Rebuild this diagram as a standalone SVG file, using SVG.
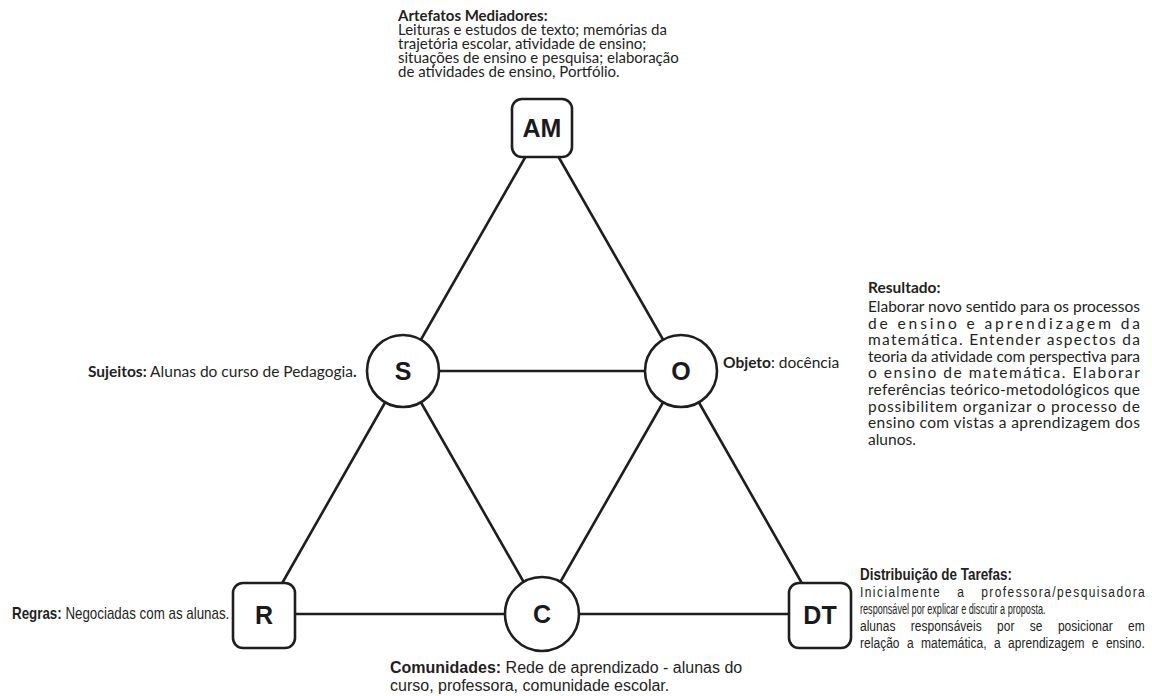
<svg xmlns="http://www.w3.org/2000/svg" width="1152" height="696" viewBox="0 0 1152 696">
<style>
.edge{stroke:#1e1e1e;stroke-width:2.6;fill:none;stroke-linecap:round}
.shape{fill:#ffffff;stroke:#1e1e1e;stroke-width:2.6}
.lbl{font-family:"Liberation Sans",Arial,sans-serif;font-weight:bold;font-size:25px;fill:#1a1a1a;text-anchor:middle}
.cal{font-family:Lato,"Open Sans",sans-serif;font-size:15.5px;fill:#231f20}
.top{font-family:Lato,"Open Sans",sans-serif;font-size:15px;fill:#231f20}
.ari{font-family:"Liberation Sans",Arial,sans-serif;fill:#231f20}
.b{font-weight:bold}
</style>
<rect width="1152" height="696" fill="#ffffff"/>
<g id="connectors">
<line class="edge" x1="542" y1="128" x2="403" y2="371"/>
<line class="edge" x1="542" y1="128" x2="681" y2="371"/>
<line class="edge" x1="403" y1="371" x2="681" y2="371"/>
<line class="edge" x1="403" y1="371" x2="264" y2="615"/>
<line class="edge" x1="403" y1="371" x2="542" y2="614"/>
<line class="edge" x1="681" y1="371" x2="542" y2="614"/>
<line class="edge" x1="681" y1="371" x2="820" y2="615"/>
<line class="edge" x1="264" y1="614" x2="542" y2="614"/>
<line class="edge" x1="542" y1="614" x2="820" y2="614"/>
</g>
<g id="node-AM">
<rect class="shape" x="512" y="99" width="60" height="58" rx="10"/>
<text class="lbl" x="542" y="137" font-size="26">AM</text>
</g>
<g id="node-S">
<circle class="shape" cx="403" cy="371" r="36"/>
<text class="lbl" x="403" y="380">S</text>
</g>
<g id="node-O">
<circle class="shape" cx="681" cy="371" r="36"/>
<text class="lbl" x="681" y="380">O</text>
</g>
<g id="node-R">
<rect class="shape" x="233" y="583" width="62" height="65" rx="10"/>
<text class="lbl" x="264" y="624">R</text>
</g>
<g id="node-C">
<circle class="shape" cx="542" cy="614" r="37"/>
<text class="lbl" x="542" y="623">C</text>
</g>
<g id="node-DT">
<rect class="shape" x="789" y="583" width="62" height="65" rx="10"/>
<text class="lbl" x="820" y="624">DT</text>
</g>
<g id="text-AM">
<text class="top b" x="398" y="21" font-size="15.5">Artefatos Mediadores:</text>
<text class="top" x="398" y="35">Leituras e estudos de texto; memórias da</text>
<text class="top" x="398" y="49">trajetória escolar, atividade de ensino;</text>
<text class="top" x="398" y="63">situações de ensino e pesquisa; elaboração</text>
<text class="top" x="398" y="77">de atividades de ensino, Portfólio.</text>
</g>
<g id="text-S">
<text class="cal" x="88" y="377"><tspan class="b">Sujeitos:</tspan> Alunas do curso de Pedagogia<tspan class="b">.</tspan></text>
</g>
<g id="text-O">
<text class="cal" x="723" y="368"><tspan class="b">Objeto</tspan>: docência</text>
</g>
<g id="text-result">
<text class="cal b" x="868" y="293">Resultado:</text>
<text class="cal" x="868" y="312" textLength="272" lengthAdjust="spacing">Elaborar novo sentido para os processos</text>
<text class="cal" x="868" y="328.6" textLength="272" lengthAdjust="spacing">de ensino e aprendizagem da</text>
<text class="cal" x="868" y="345.2" textLength="272" lengthAdjust="spacing">matemática. Entender aspectos da</text>
<text class="cal" x="868" y="361.8" textLength="272" lengthAdjust="spacing">teoria da atividade com perspectiva para</text>
<text class="cal" x="868" y="378.4" textLength="272" lengthAdjust="spacing">o ensino de matemática. Elaborar</text>
<text class="cal" x="868" y="395" textLength="272" lengthAdjust="spacing">referências teórico-metodológicos que</text>
<text class="cal" x="868" y="411.6" textLength="272" lengthAdjust="spacing">possibilitem organizar o processo de</text>
<text class="cal" x="868" y="428.2" textLength="272" lengthAdjust="spacing">ensino com vistas a aprendizagem dos</text>
<text class="cal" x="868" y="444.8">alunos.</text>
</g>
<g id="text-DT" transform="translate(860 0) scale(0.8 1)">
<text class="ari b" x="0" y="580" font-size="16" textLength="190" lengthAdjust="spacingAndGlyphs">Distribuição de Tarefas:</text>
<text class="ari" x="0" y="597" font-size="15" word-spacing="14" textLength="356" lengthAdjust="spacing">Inicialmente a professora/pesquisadora</text>
<text class="ari" x="0" y="614" font-size="15" textLength="232" lengthAdjust="spacingAndGlyphs">responsável por explicar e discutir a proposta.</text>
<text class="ari" x="0" y="631" font-size="15" word-spacing="15" textLength="356" lengthAdjust="spacing">alunas responsáveis por se posicionar em</text>
<text class="ari" x="0" y="648" font-size="15" word-spacing="5" textLength="356" lengthAdjust="spacing">relação a matemática, a aprendizagem e ensino.</text>
</g>
<g id="text-R" transform="translate(12 0) scale(0.835 1)">
<text class="ari" x="0" y="619" font-size="16"><tspan class="b">Regras:</tspan> Negociadas com as alunas.</text>
</g>
<g id="text-C">
<text class="ari" x="390" y="673" font-size="16"><tspan class="b">Comunidades:</tspan> Rede de aprendizado - alunas do</text>
<text class="ari" x="390" y="691" font-size="16">curso, professora, comunidade escolar.</text>
</g>
</svg>
